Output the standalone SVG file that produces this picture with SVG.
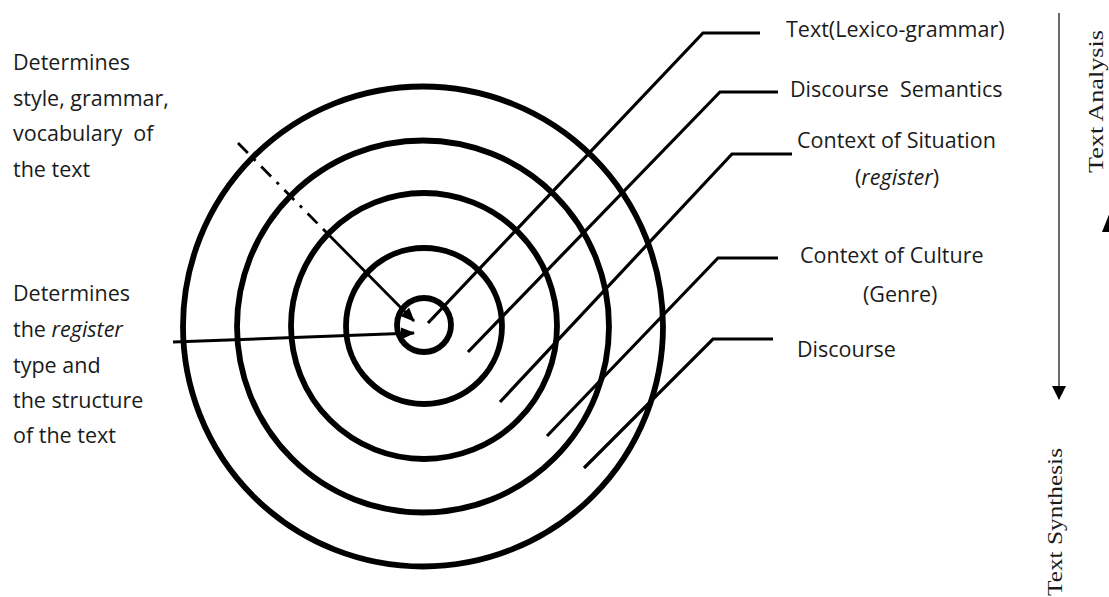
<svg xmlns="http://www.w3.org/2000/svg" width="1109" height="597" viewBox="0 0 1109 597">
<style>
.ring{fill:none;stroke:#000;stroke-width:5.8}
.lead{fill:none;stroke:#000;stroke-width:3.2;stroke-linejoin:miter}
.lbl{font-family:"Open Sans","Noto Sans",sans-serif;font-size:21.5px;fill:#1b1b1b}
.ser{font-family:"Liberation Serif","Times New Roman",serif;font-size:21px;fill:#1b1b1b}
</style>
<defs>
<marker id="ah" markerUnits="userSpaceOnUse" markerWidth="14" markerHeight="12" refX="13" refY="6" orient="auto">
<path d="M0,0 L14,6 L0,12 z" fill="#000"/>
</marker>
<marker id="ahv" markerUnits="userSpaceOnUse" markerWidth="14" markerHeight="14" refX="13" refY="7" orient="auto">
<path d="M0,0 L14,7 L0,14 z" fill="#000"/>
</marker>
</defs>
<g id="rings">
<circle id="outer" class="ring" cx="423" cy="326.5" r="240"/>
<circle id="ring4" class="ring" cx="423" cy="326.5" r="186"/>
<circle id="ring3" class="ring" cx="424" cy="326" r="133"/>
<circle id="ring2" class="ring" cx="424" cy="326" r="78"/>
<circle id="inner" class="ring" cx="424" cy="325" r="27" stroke-width="6"/>
</g>
<g id="connectors">
<polyline class="lead" points="760,33 703,33 428,323"/>
<polyline class="lead" points="778,92 720,92 468,352"/>
<polyline class="lead" points="792,154 732,154 500,402"/>
<polyline class="lead" points="778,258 718,258 547,436"/>
<polyline class="lead" points="773,339 713,339 584,468"/>
<line x1="238" y1="143" x2="323" y2="229" stroke="#000" stroke-width="2.8" stroke-dasharray="14,8,3,8"/>
<line x1="323" y1="229" x2="414" y2="321" stroke="#000" stroke-width="2.8" marker-end="url(#ah)"/>
<line x1="173" y1="342" x2="414" y2="333" stroke="#000" stroke-width="3" marker-end="url(#ah)"/>
<line x1="1059" y1="13" x2="1059" y2="399" stroke="#444" stroke-width="1.6" marker-end="url(#ahv)"/>
<polygon points="1110,212 1102,232 1118,232" fill="#000"/>
</g>
<g id="left-labels">
<text class="lbl" x="13" y="70">Determines</text>
<text class="lbl" x="13" y="106">style, grammar,</text>
<text class="lbl" x="13" y="141" xml:space="preserve">vocabulary  of</text>
<text class="lbl" x="13" y="177">the text</text>
<text class="lbl" x="13" y="301">Determines</text>
<text class="lbl" x="13" y="337">the <tspan font-style="italic">register</tspan></text>
<text class="lbl" x="13" y="373">type and</text>
<text class="lbl" x="13" y="408">the structure</text>
<text class="lbl" x="13" y="443">of the text</text>
</g>
<g id="right-labels">
<text class="lbl" x="786" y="37">Text(Lexico-grammar)</text>
<text class="lbl" x="790" y="97" xml:space="preserve">Discourse  Semantics</text>
<text class="lbl" x="797" y="148">Context of Situation</text>
<text class="lbl" x="855" y="185">(<tspan font-style="italic">register</tspan>)</text>
<text class="lbl" x="800" y="263">Context of Culture</text>
<text class="lbl" x="863" y="302">(Genre)</text>
<text class="lbl" x="797" y="357">Discourse</text>
</g>
<g id="axis-labels">
<text class="ser" transform="translate(1103,173) rotate(-90)" textLength="143" lengthAdjust="spacingAndGlyphs">Text Analysis</text>
<text class="ser" transform="translate(1062,596) rotate(-90)" textLength="148" lengthAdjust="spacingAndGlyphs">Text Synthesis</text>
</g>
</svg>
